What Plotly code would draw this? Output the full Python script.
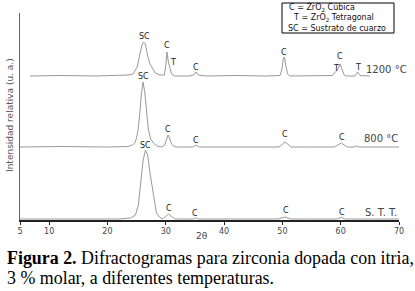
import plotly.graph_objects as go

# ---------------- data ----------------
tick_values = [5, 10, 20, 30, 40, 50, 60, 70]
tick_labels = ["5", "10", "20", "30", "40", "50", "60", "70"]

# 1200 °C pattern (2θ, relative intensity)
two_theta_1200 = [6.7, 12, 18, 22, 23.5, 24.4, 25.1, 25.5, 25.9, 26.2, 26.5, 26.9, 27.3, 27.6,
                  28.2, 29.0, 29.75, 30.0, 30.2, 30.45, 30.7, 30.85, 31.0, 31.5, 34.0, 34.8,
                  35.2, 35.6, 37, 42, 47, 49.6, 49.9, 50.15, 50.35, 50.6, 50.9, 51.3, 55,
                  58.6, 58.9, 59.3, 59.6, 59.9, 60.2, 60.6, 61.0, 62.4, 62.9, 63.3, 65.0]
intensity_1200 = [0, 0.5, 0, 0.5, 1, 2, 9, 20, 31, 34, 32, 20, 12, 9,
                  3, 1, 1, 10, 24, 14, 8, 7, 2, 0, 0, 1,
                  4, 1, 0, 0.5, 0, 0.5, 6, 17, 19, 10, 2, 0, 0,
                  0.5, 3, 5, 8, 12, 7, 1, 0, 0, 4, 0.5, 0]

# 800 °C pattern
two_theta_800 = [5, 12, 20, 23.5, 24.3, 24.8, 25.2, 25.5, 25.8, 26.1, 26.4, 26.7, 27.0, 27.4,
                 27.9, 28.5, 29.3, 29.8, 30.1, 30.4, 30.7, 31.0, 31.4, 32, 34.6, 35.2, 35.7,
                 40, 49.4, 49.9, 50.4, 50.9, 51.5, 55, 58.9, 59.5, 60.1, 60.6, 61.1, 62.2,
                 62.7, 63.2, 66, 70]
intensity_800 = [0, 0.5, 0, 0.5, 2, 5, 15, 30, 52, 65, 55, 33, 18, 8,
                 4, 1, 0, 2, 7, 12, 8, 3, 0.5, 0, 0, 2, 0,
                 0, 0, 2, 5, 3, 0, 0, 0, 2, 4, 2, 0, 0,
                 1, 0, 0, 0]

# S. T. T. pattern
two_theta_stt = [5, 15, 22, 24.0, 24.8, 25.3, 25.7, 26.1, 26.5, 26.9, 27.3, 27.6, 28.0, 28.4,
                 28.9, 29.4, 29.9, 30.5, 31.1, 31.6, 33, 34.7, 35.1, 35.5, 40, 49.3, 50.4,
                 51.4, 55, 59.3, 60.1, 60.8, 65, 70]
intensity_stt = [0, 0, 0, 1, 4, 14, 35, 58, 69, 64, 46, 35, 16, 6,
                 2, 0, 2, 5, 2, 0, 0, 0, 1, 0, 0, 0, 2,
                 0, 0, 0, 1.5, 0, 0, 0]

# peak labels: (2θ, text)
labels_1200 = [(26.3, "SC"), (30.2, "C"), (31.2, "T"), (35.1, "C"), (50.3, "C"),
               (59.9, "C"), (59.2, "T"), (62.9, "T")]
labels_800 = [(26.2, "SC"), (30.4, "C"), (35.2, "C"), (50.4, "C"), (60.2, "C")]
labels_stt = [(26.5, "SC"), (30.6, "C"), (35.0, "C"), (50.6, "C"), (60.3, "C")]

series_names = ["1200 °C", "800 °C", "S. T. T."]
legend_lines = ["C = ZrO<sub>2</sub> Cúbica", "T = ZrO<sub>2</sub> Tetragonal",
                "SC = Sustrato de cuarzo"]

# ---------------- layout helpers ----------------
W, H = 415, 291
L, R, T, B = 20, 16, 13, 71
PW, PH = W - L - R, H - T - B


def px_x(px):
    return (px - L) / PW


def px_y(py):
    return (H - B - py) / PH


offsets = [144, 73, 1]  # vertical shift of each pattern (axis units = px)
label_y = [
    [184, 175, 158, 153, 168, 164, 152, 153],
    [144, 91, 80, 86, 83],
    [75, 12, 7, 10, 8],
]
name_pos = [(386, 69), (381, 138), (381, 212)]

fig = go.Figure()
series = [(two_theta_1200, intensity_1200), (two_theta_800, intensity_800),
          (two_theta_stt, intensity_stt)]
for (xs, ys), off, name in zip(series, offsets, series_names):
    fig.add_trace(go.Scatter(x=xs, y=[v + off for v in ys], mode="lines", name=name,
                             line=dict(color="#999999", width=1), showlegend=False,
                             hoverinfo="skip"))

ann = []
lab_font = dict(family="DejaVu Sans", size=8, color="#222")
for labs, ly in zip([labels_1200, labels_800, labels_stt], label_y):
    for (x, t), yy in zip(labs, ly):
        ann.append(dict(x=x, y=yy, xref="x", yref="y", text=t, showarrow=False,
                        font=lab_font, xanchor="center", yanchor="middle"))

for name, (px, py) in zip(series_names, name_pos):
    ann.append(dict(x=px_x(px), y=px_y(py), xref="paper", yref="paper", text=name,
                    showarrow=False, font=dict(family="DejaVu Sans", size=10, color="#444"),
                    xanchor="center", yanchor="middle"))

# legend box text
for txt, (px, py) in zip(legend_lines, [(287, 8), (291, 18), (286, 28)]):
    ann.append(dict(x=px_x(px), y=px_y(py), xref="paper", yref="paper", text=txt,
                    showarrow=False, font=dict(family="DejaVu Sans", size=8, color="#111"),
                    xanchor="left", yanchor="middle"))

# axis titles
ann.append(dict(x=px_x(10), y=px_y(115), xref="paper", yref="paper",
                text="Intensidad relativa (u. a.)", textangle=-90, showarrow=False,
                font=dict(family="DejaVu Sans", size=9, color="#555"),
                xanchor="center", yanchor="middle"))
ann.append(dict(x=px_x(202), y=px_y(236), xref="paper", yref="paper", text="2θ",
                showarrow=False, font=dict(family="DejaVu Sans", size=9, color="#444"),
                xanchor="center", yanchor="middle"))

# caption
cap_font = dict(family="Liberation Serif", size=17.9, color="#000")
ann.append(dict(x=px_x(5), y=px_y(258), xref="paper", yref="paper",
                text="<b>Figura 2.</b> Difractogramas para zirconia dopada con itria,",
                showarrow=False, font=cap_font, xanchor="left", yanchor="middle"))
ann.append(dict(x=px_x(5), y=px_y(278), xref="paper", yref="paper",
                text="3 % molar, a diferentes temperaturas.",
                showarrow=False, font=cap_font, xanchor="left", yanchor="middle"))

fig.update_layout(
    width=W, height=H,
    margin=dict(l=L, r=R, t=T, b=B),
    paper_bgcolor="white", plot_bgcolor="white",
    annotations=ann,
    shapes=[dict(type="rect", xref="paper", yref="paper",
                 x0=px_x(282), x1=px_x(394), y0=px_y(3), y1=px_y(33),
                 line=dict(color="#000", width=1), fillcolor="rgba(0,0,0,0)")],
)
fig.update_xaxes(range=[5, 70], tickvals=tick_values, ticktext=tick_labels,
                 showline=True, linecolor="#222", linewidth=1.5, ticks="outside",
                 ticklen=3, tickcolor="#222", showgrid=False, zeroline=False,
                 tickfont=dict(family="DejaVu Sans", size=8, color="#444"))
fig.update_yaxes(range=[0, PH], showline=True, linecolor="#666", linewidth=1,
                 showticklabels=False, ticks="", showgrid=False, zeroline=False)

fig.write_html("out.html", config={"displayModeBar": False},
               post_script="document.body.style.margin='0';document.body.style.padding='0';")
